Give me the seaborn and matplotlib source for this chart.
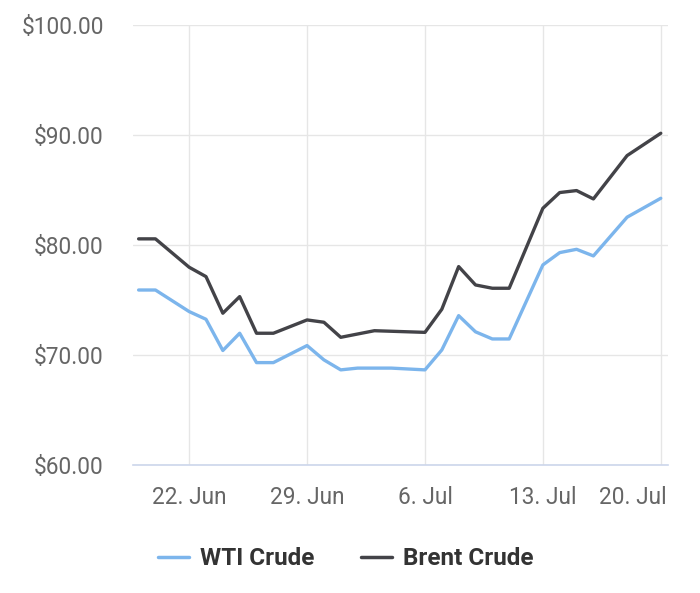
import pandas as pd
import numpy as np
import matplotlib
matplotlib.use("Agg")
import matplotlib.pyplot as plt
import matplotlib.dates as mdates
import matplotlib.transforms as mtransforms
from matplotlib.lines import Line2D
from matplotlib.ticker import FuncFormatter
import seaborn as sns

dates = ["2020-06-19", "2020-06-20", "2020-06-22", "2020-06-23", "2020-06-24",
         "2020-06-25", "2020-06-26", "2020-06-27", "2020-06-29", "2020-06-30",
         "2020-07-01", "2020-07-02", "2020-07-03", "2020-07-04", "2020-07-06",
         "2020-07-07", "2020-07-08", "2020-07-09", "2020-07-10", "2020-07-11",
         "2020-07-13", "2020-07-14", "2020-07-15", "2020-07-16", "2020-07-18",
         "2020-07-20"]
wti = [75.9, 75.9, 73.94, 73.24, 70.4, 71.97, 69.3, 69.3, 70.85, 69.55,
       68.64, 68.8, 68.8, 68.8, 68.64, 70.45, 73.57, 72.1, 71.45, 71.45,
       78.18, 79.3, 79.6, 79.0, 82.52, 84.24]
brent = [80.55, 80.55, 77.97, 77.12, 73.79, 75.3, 71.97, 71.97, 73.18, 72.97,
         71.6, 71.9, 72.2, 72.15, 72.05, 74.15, 78.03, 76.36, 76.06, 76.06,
         83.33, 84.76, 84.94, 84.18, 88.12, 90.15]
series_names = ["WTI Crude", "Brent Crude"]
colors = ["#7cb5ec", "#434348"]
xtick_dates = ["2020-06-22", "2020-06-29", "2020-07-06", "2020-07-13", "2020-07-20"]
yticks = [60, 70, 80, 90, 100]

df = pd.DataFrame({
    "date": pd.to_datetime(dates * 2),
    "price": wti + brent,
    "series": [series_names[0]] * len(dates) + [series_names[1]] * len(dates),
})

sns.set_theme(style="white")
plt.rcParams["font.family"] = ["Roboto", "DejaVu Sans"]

fig = plt.figure(figsize=(7, 5.93), dpi=100)
ax = fig.add_axes([0.19, 0.216, 0.764, 0.742])

sns.lineplot(data=df, x="date", y="price", hue="series", hue_order=series_names,
             palette=colors, linewidth=2.4, ax=ax, legend=False, zorder=3)

ax.set_xlim(pd.Timestamp("2020-06-18 16:00"), pd.Timestamp("2020-07-20 10:00"))
ax.set_ylim(60, 100)
ax.set_yticks(yticks)
ax.yaxis.set_major_formatter(FuncFormatter(lambda v, p: f"${v:.2f}"))
ax.set_xticks(pd.to_datetime(xtick_dates))
ax.xaxis.set_major_formatter(mdates.DateFormatter("%-d. %b"))
ax.set_xlabel("")
ax.set_ylabel("")

ax.grid(True, color="#e6e6e6", linewidth=1.0, zorder=0)
for s in ["top", "right", "left"]:
    ax.spines[s].set_visible(False)
ax.spines["bottom"].set_color("#ccd6eb")
ax.spines["bottom"].set_linewidth(1.2)
ax.tick_params(axis="y", length=0, pad=21, labelsize=16.3, labelcolor="#666666")
ax.tick_params(axis="x", length=9, width=1.2, color="#ccd6eb", pad=6,
               labelsize=16.3, labelcolor="#666666", direction="out")

handles = [Line2D([0], [0], color=c, linewidth=2.5) for c in colors]
leg = fig.legend(handles, series_names, loc="center", bbox_to_anchor=(0.494, 0.058),
                 ncol=2, frameon=False, handlelength=1.3, handletextpad=0.45,
                 columnspacing=1.9, prop={"weight": "bold", "size": 17.5})
for t in leg.get_texts():
    t.set_color("#333333")

# keep the last date label inside the plot, as in the reference
fig.canvas.draw()
last = ax.xaxis.get_major_ticks()[-1].label1
last.set_horizontalalignment("right")
last.set_transform(last.get_transform() +
                   mtransforms.ScaledTranslation(0.06, 0, fig.dpi_scale_trans))

fig.savefig("out.png", dpi=100)
